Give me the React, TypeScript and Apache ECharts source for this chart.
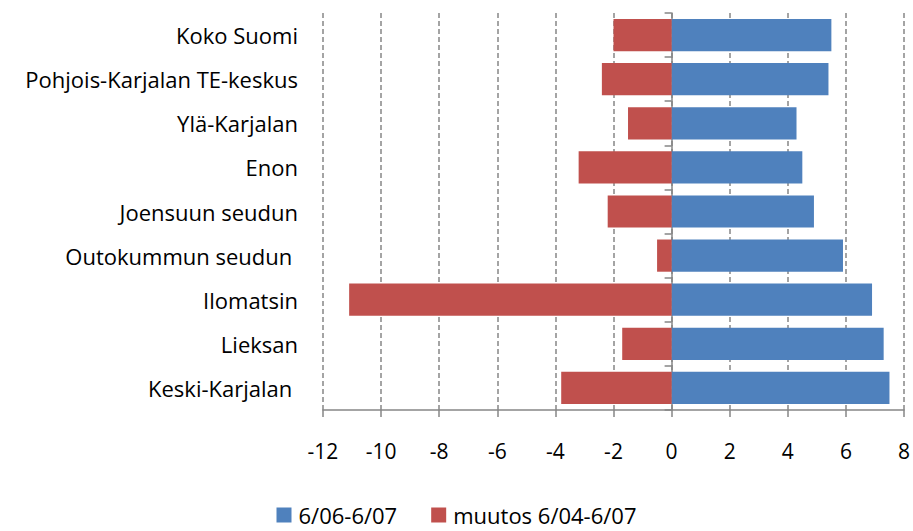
import React, { useEffect, useRef } from "react";
import * as echarts from "echarts";

const categories = [
  "Koko Suomi",
  "Pohjois-Karjalan TE-keskus",
  "Ylä-Karjalan",
  "Enon",
  "Joensuun seudun",
  "Outokummun seudun ",
  "Ilomatsin",
  "Lieksan",
  "Keski-Karjalan ",
];
const seriesNames = ["6/06-6/07", "muutos 6/04-6/07"];
const change0607 = [5.5, 5.4, 4.3, 4.5, 4.9, 5.9, 6.9, 7.3, 7.5];
const change0407 = [-2.0, -2.4, -1.5, -3.2, -2.2, -0.5, -11.1, -1.7, -3.8];

const FONT = "Open Sans";
const FS = 22;
const GRAY = "#868686";

export default function App() {
  const ref = useRef<HTMLDivElement>(null);
  useEffect(() => {
    const chart = echarts.init(ref.current!, undefined, { renderer: "svg" });
    chart.setOption({
      animation: false,
      textStyle: { fontFamily: FONT },
      grid: { left: 323, right: 8, top: 13, bottom: 121, containLabel: false },
      legend: {
        bottom: 0,
        left: "center",
        itemWidth: 15,
        itemHeight: 15,
        itemGap: 34,
        icon: "rect",
        textStyle: { fontFamily: FONT, fontSize: FS, color: "#000", padding: [0, 0, 0, 2] },
        data: seriesNames,
      },
      xAxis: {
        type: "value",
        min: -12,
        max: 8,
        interval: 2,
        axisLine: { show: true, onZero: false, lineStyle: { color: GRAY, width: 1.5 } },
        axisTick: { show: true, length: 7, lineStyle: { color: GRAY, width: 1.5 } },
        axisLabel: { fontFamily: FONT, fontSize: 21, color: "#000", margin: 30 },
        splitLine: {
          show: true,
          lineStyle: { color: GRAY, type: [5, 3], width: 1.5 },
        },
      },
      yAxis: [
        {
          type: "category",
          data: categories,
          inverse: true,
          axisLine: { show: false },
          axisTick: { show: false },
          axisLabel: { fontFamily: FONT, fontSize: FS, color: "#000", margin: 25 },
          splitLine: { show: false },
        },
        {
          type: "category",
          data: categories,
          inverse: true,
          position: "left",
          axisLine: { show: true, onZero: true, onZeroAxisIndex: 0, lineStyle: { color: GRAY, width: 1.5 } },
          axisTick: { show: true, length: 7, lineStyle: { color: GRAY, width: 1.5 } },
          axisLabel: { show: false },
          splitLine: { show: false },
        },
      ],
      series: [
        {
          name: seriesNames[0],
          type: "bar",
          stack: "s",
          barWidth: "73%",
          itemStyle: { color: "#4F81BD" },
          data: change0607,
        },
        {
          name: seriesNames[1],
          type: "bar",
          stack: "s",
          barWidth: "73%",
          itemStyle: { color: "#C0504D" },
          data: change0407,
        },
      ],
    });
    return () => chart.dispose();
  }, []);
  return <div ref={ref} style={{ width: 913, height: 531, position: "absolute", left: 0, top: 0 }} />;
}
